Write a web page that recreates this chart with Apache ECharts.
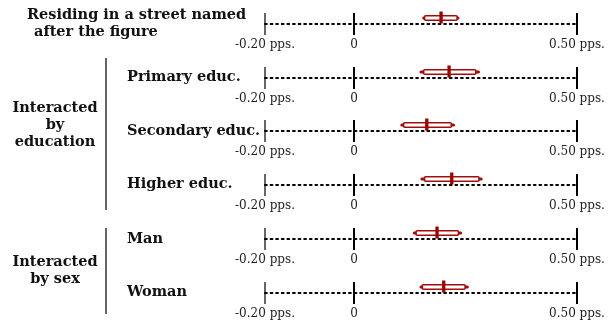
<!DOCTYPE html>
<html>
<head>
<meta charset="utf-8">
<script src="https://cdn.jsdelivr.net/npm/echarts@6/dist/echarts.min.js"></script>
<style>html,body{margin:0;padding:0;background:#fff;}#c{width:611px;height:325px;}</style>
</head>
<body>
<div id="c"></div>
<script>
// ---- data ----
var rowNames = ['Residing in a street named after the figure', 'Primary educ.', 'Secondary educ.', 'Higher educ.', 'Man', 'Woman'];
var estimates = [0.195, 0.213, 0.163, 0.219, 0.186, 0.201];
var ci90Low   = [0.158, 0.156, 0.111, 0.158, 0.139, 0.153];
var ci90High  = [0.231, 0.273, 0.218, 0.280, 0.234, 0.249];
var ci95Low   = [0.156, 0.150, 0.107, 0.152, 0.135, 0.150];
var ci95High  = [0.233, 0.279, 0.223, 0.285, 0.239, 0.254];
var tickValues = [-0.2, 0, 0.5];
var tickLabels = ['-0.20 pps.', '0', '0.50 pps.'];
var axisMin = -0.2, axisMax = 0.5;

// ---- layout ----
var rowY0 = 24, rowStep = 53.7, half = 11;
var red = '#a30d0d';
var serif = '"DejaVu Serif", "Liberation Serif", serif';

var grids = [], xAxes = [], yAxes = [], series = [];
rowNames.forEach(function (name, i) {
  var cy = Math.round(rowY0 + rowStep * i);
  grids.push({ left: 265, right: 34, top: cy - half, height: half * 2 });
  xAxes.push({
    type: 'value', gridIndex: i, min: axisMin, max: axisMax,
    axisLine: { show: true, onZero: true, lineStyle: { color: '#000', width: 2, type: [1.8, 3.8] } },
    axisTick: { show: false, customValues: tickValues },
    axisLabel: {
      show: true, customValues: tickValues, margin: 4,
      color: '#222', fontFamily: serif, fontSize: 12,
      formatter: function (v) { var k = tickValues.indexOf(v); return k >= 0 ? tickLabels[k] : ''; }
    },
    splitLine: { show: true, lineStyle: { color: ['#666', '#000', '#000'], width: 2 } }
  });
  yAxes.push({ type: 'value', gridIndex: i, min: -1, max: 1, show: false });
  series.push({
    type: 'custom', xAxisIndex: i, yAxisIndex: i, silent: true,
    data: [[ci95Low[i], ci90Low[i], estimates[i], ci90High[i], ci95High[i]]],
    renderItem: function (params, api) {
      var p95l = api.coord([api.value(0), 0]);
      var p90l = api.coord([api.value(1), 0]);
      var pe = api.coord([api.value(2), 0]);
      var p90h = api.coord([api.value(3), 0]);
      var p95h = api.coord([api.value(4), 0]);
      var y = p90l[1];
      return {
        type: 'group',
        children: [
          { type: 'line', shape: { x1: p95l[0], y1: y - 6, x2: p95h[0], y2: y - 6 },
            style: { stroke: red, lineWidth: 3, lineCap: 'round' } },
          { type: 'rect', shape: { x: p90l[0], y: y - 8.3, width: p90h[0] - p90l[0], height: 4.6, r: 1 },
            style: { fill: '#fff', stroke: red, lineWidth: 1.6 } },
          { type: 'line', shape: { x1: pe[0], y1: y - 12.5, x2: pe[0], y2: y - 0.5 },
            style: { stroke: '#9a0000', lineWidth: 3.3 } }
        ]
      };
    }
  });
});

function txt(s, x, y, align) {
  return { type: 'text', x: x, y: y, silent: true,
    style: { text: s, fill: '#111', font: 'bold 14.5px ' + serif,
      textAlign: align, textVerticalAlign: 'middle', align: align, verticalAlign: 'middle' } };
}
var graphics = [
  txt('Residing in a street named', 27, 15, 'left'),
  txt('after the figure', 34, 32, 'left'),
  txt('Interacted', 55, 108, 'center'),
  txt('by', 55, 125, 'center'),
  txt('education', 55, 142, 'center'),
  txt('Primary educ.', 127, 77, 'left'),
  txt('Secondary educ.', 127, 131, 'left'),
  txt('Higher educ.', 127, 184, 'left'),
  txt('Interacted', 55, 262, 'center'),
  txt('by sex', 55, 279, 'center'),
  txt('Man', 127, 239, 'left'),
  txt('Woman', 127, 292, 'left'),
  { type: 'line', silent: true, shape: { x1: 106, y1: 58, x2: 106, y2: 210 }, style: { stroke: '#333', lineWidth: 1.5 } },
  { type: 'line', silent: true, shape: { x1: 106, y1: 228, x2: 106, y2: 314 }, style: { stroke: '#333', lineWidth: 1.5 } }
];

var chart = echarts.init(document.getElementById('c'), null, { renderer: 'canvas' });
chart.setOption({
  animation: false,
  backgroundColor: '#fff',
  grid: grids, xAxis: xAxes, yAxis: yAxes, series: series,
  graphic: graphics
});
</script>
</body>
</html>
